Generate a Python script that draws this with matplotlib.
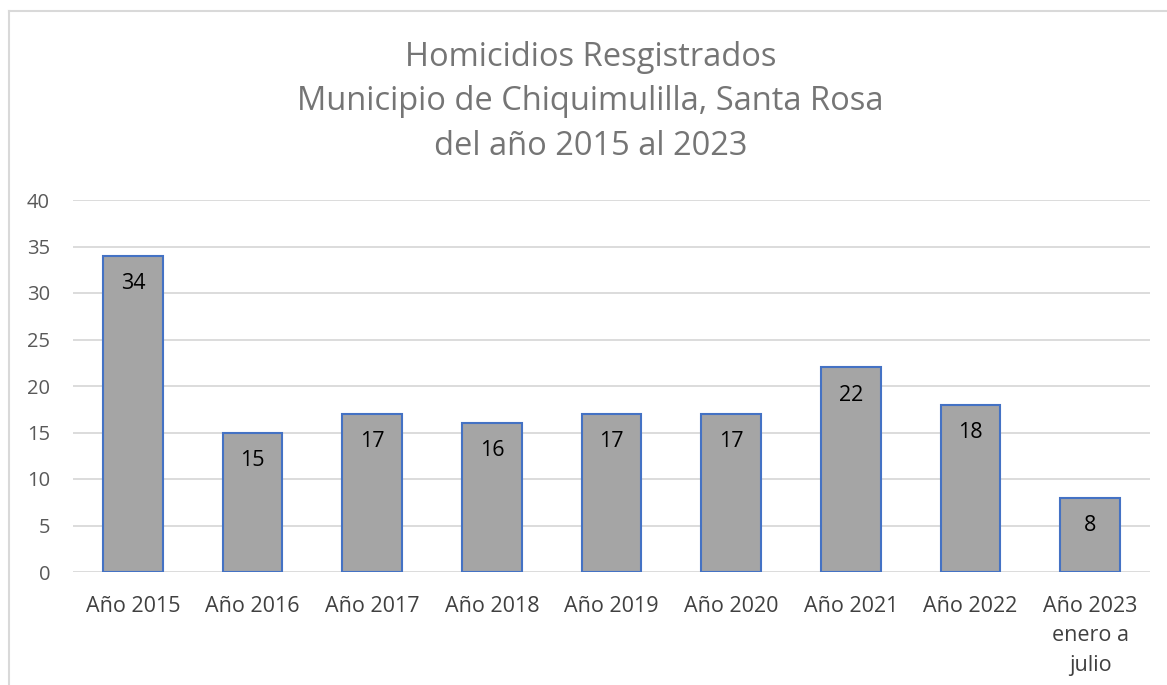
import matplotlib.pyplot as plt
from matplotlib.lines import Line2D

categorias = ['Año 2015', 'Año 2016', 'Año 2017', 'Año 2018', 'Año 2019',
              'Año 2020', 'Año 2021', 'Año 2022', 'Año 2023\nenero a\njulio']
homicidios = [34, 15, 17, 16, 17, 17, 22, 18, 8]
yticks = [0, 5, 10, 15, 20, 25, 30, 35, 40]

plt.rcParams['font.family'] = ['Open Sans', 'DejaVu Sans']

fig = plt.figure(figsize=(11.67, 6.85), dpi=100)
ax = fig.add_axes([73 / 1167, 1 - 572 / 685, (1150 - 73) / 1167, (572 - 200) / 685])

# marco del grafico (solo arriba e izquierda visibles)
fig.add_artist(Line2D([9 / 1167, 1.0], [1 - 11 / 685, 1 - 11 / 685],
                      transform=fig.transFigure, color='#d9d9d9', lw=1.5))
fig.add_artist(Line2D([9 / 1167, 9 / 1167], [0.0, 1 - 11 / 685],
                      transform=fig.transFigure, color='#d9d9d9', lw=1.5))

x = range(len(categorias))
bars = ax.bar(x, homicidios, width=0.5, color='#a5a5a5', edgecolor='#4472c4',
              linewidth=1.5, zorder=3)

for b, v in zip(bars, homicidios):
    ax.annotate(str(v), (b.get_x() + b.get_width() / 2, v), xytext=(0, -20),
                textcoords='offset points', ha='center', va='center',
                fontsize=15.5, color='black', zorder=4)

ax.set_xlim(-0.5, len(categorias) - 0.5)
ax.set_ylim(0, 40)
ax.set_yticks(yticks)
ax.set_xticks(list(x))
ax.set_xticklabels(categorias, fontsize=15.5, color='#404040', linespacing=1.55, va='top')
ax.tick_params(axis='y', labelsize=14.5, labelcolor='#595959', length=0, pad=16.5)
ax.tick_params(axis='x', length=0, pad=17)
ax.grid(axis='y', color='#d9d9d9', lw=1.3, zorder=0)
for s in ax.spines.values():
    s.set_visible(False)

fig.text(0.506, 1 - 102 / 685,
         'Homicidios Resgistrados\nMunicipio de Chiquimulilla, Santa Rosa\ndel año 2015 al 2023',
         ha='center', va='center', fontsize=23.5, color='#757575', linespacing=1.45)

fig.savefig('out.png', dpi=100)
